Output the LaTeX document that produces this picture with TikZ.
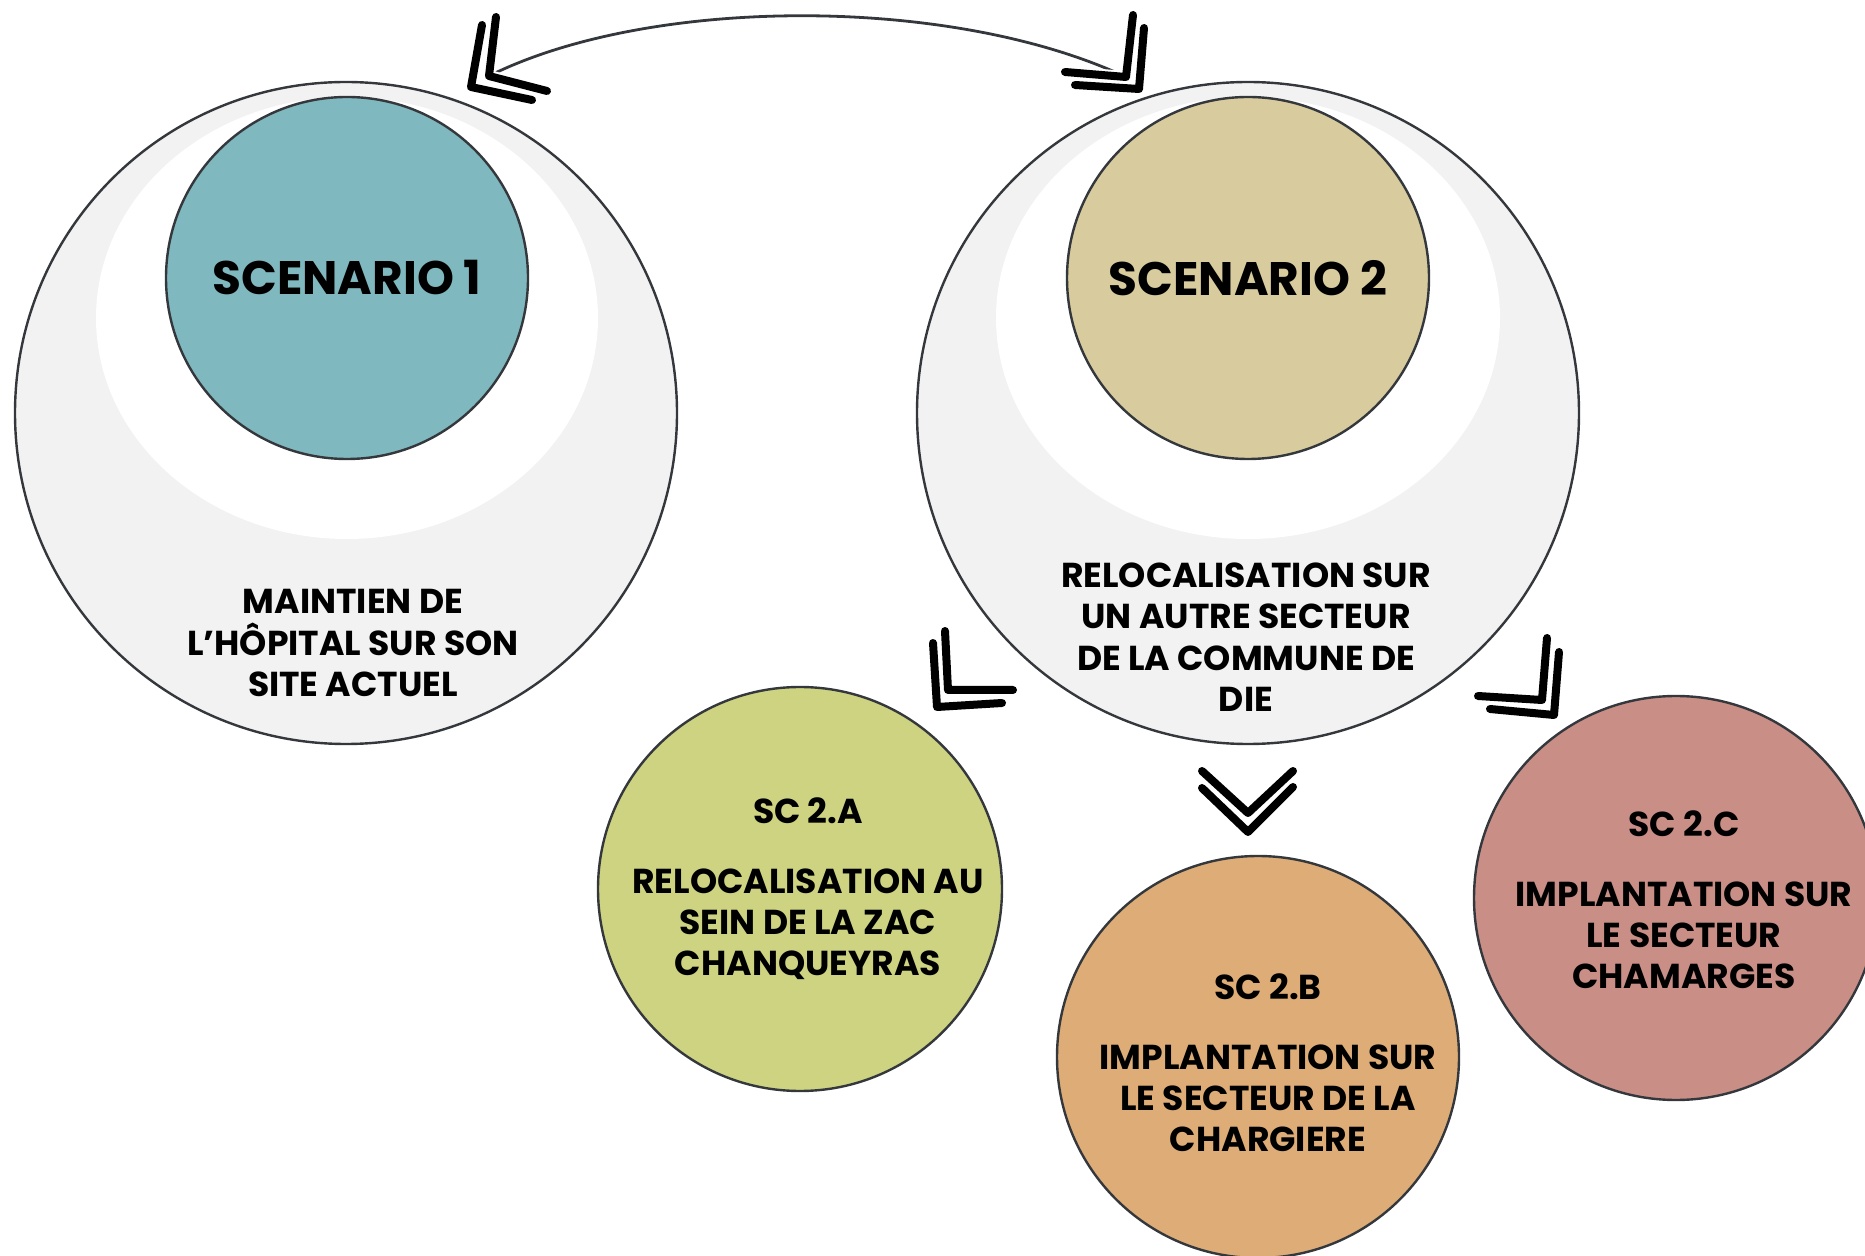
\documentclass[tikz,border=0pt]{standalone}
\usepackage{fontspec}
\setmainfont{Poppins}
\usetikzlibrary{positioning}

\definecolor{edgegray}{HTML}{34383C}
\definecolor{ringgray}{HTML}{F2F2F2}
\definecolor{scteal}{HTML}{7FB8BE}
\definecolor{sckhaki}{HTML}{D8CC9E}
\definecolor{scolive}{HTML}{CED381}
\definecolor{scocre}{HTML}{DEAD77}
\definecolor{scrose}{HTML}{C98F87}

\begin{document}
\begin{tikzpicture}[x=0.5pt, y=-0.5pt,
    ring/.style={circle, draw=edgegray, line width=1.2pt, fill=ringgray,
                 minimum size=331pt, inner sep=0pt},
    core/.style={circle, draw=edgegray, line width=1.2pt, minimum size=181pt,
                 inner sep=0pt, font=\bfseries\fontsize{23.5}{28}\selectfont},
    leaf/.style={circle, draw=edgegray, line width=1.2pt, minimum size=202pt,
                 inner sep=0pt},
    lbl/.style={align=center, font=\bfseries\fontsize{17.3}{20.7}\selectfont},
    chev/.style={line width=4pt, line cap=round, line join=round,
                 preaction={draw=white, line width=6pt}}]
  \useasboundingbox (0,0) rectangle (1865,1256);
  \clip (0,0) rectangle (1865,1256);

  % scenario 1
  \node[ring] (ring1) at (346,413) {};
  \fill[white] (347,318) ellipse [x radius=251, y radius=221];
  \node[core, fill=scteal] (sc1) at (347,278) {SCENARIO 1};
  \node[lbl] (sc1txt) at (353,643)
        {MAINTIEN DE\\L’HÔPITAL SUR SON\\SITE ACTUEL};

  % scenario 2
  \node[ring] (ring2) at (1248,413) {};
  \fill[white] (1248,318) ellipse [x radius=252, y radius=221];
  \node[core, fill=sckhaki] (sc2) at (1248,278) {SCENARIO 2};
  \node[lbl] (sc2txt) at (1246,637)
        {RELOCALISATION SUR\\UN AUTRE SECTEUR\\DE LA COMMUNE DE\\DIE};

  % sous-scenarios
  \node[leaf, fill=scolive] (sc2a) at (800,889) {};
  \node[lbl] (sc2atxt) at ([xshift=4pt]sc2a)
        {SC 2.A\\[14pt]RELOCALISATION AU\\SEIN DE LA ZAC\\CHANQUEYRAS};
  \node[leaf, fill=scocre, minimum size=201pt] (sc2b) at (1258,1057) {};
  \node[lbl] (sc2btxt) at ([xshift=5pt, yshift=-3pt]sc2b)
        {SC 2.B\\[14pt]IMPLANTATION SUR\\LE SECTEUR DE LA\\CHARGIERE};
  \node[leaf, fill=scrose] (sc2c) at (1676,898) {};
  \node[lbl] (sc2ctxt) at ([xshift=4pt, yshift=-1pt]sc2c)
        {SC 2.C\\[14pt]IMPLANTATION SUR\\LE SECTEUR\\CHAMARGES};

  % lien entre les deux scenarios
  \coordinate (tipL) at (489,76);
  \coordinate (tipR) at (1126,77);
  \draw[edgegray, line width=1.4pt] (tipL) .. controls +(160,-80) and
        +(-175,-82) .. (tipR);

  % doubles chevrons
  \foreach \p/\q/\r in {
      {(482,25)}/{(471,87)}/{(532,100)},   {(496,17)}/{(489,76)}/{(547,91)},
      {(1144,28)}/{(1139,89)}/{(1075,85)}, {(1133,15)}/{(1126,77)}/{(1065,72)},
      {(933,643)}/{(937,707)}/{(1002,703)},{(945,631)}/{(948,690)}/{(1013,690)},
      {(1559,652)}/{(1554,715)}/{(1490,709)},{(1547,638)}/{(1542,700)}/{(1478,696)},
      {(1202,788)}/{(1248,832)}/{(1293,787)},{(1202,771)}/{(1248,813)}/{(1293,771)}}
    \draw[chev] \p -- \q -- \r;
\end{tikzpicture}
\end{document}
